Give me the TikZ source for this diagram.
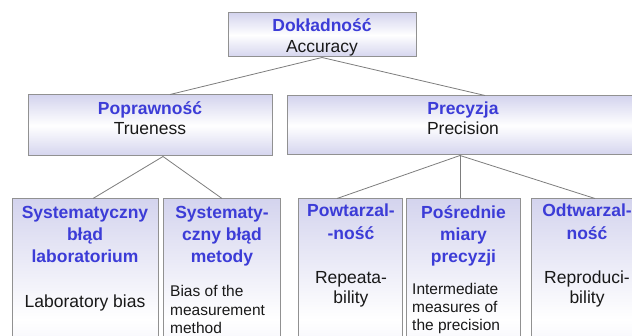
\documentclass[tikz,border=0pt]{standalone}
\usepackage{fontspec}
\setmainfont{Liberation Sans}
\definecolor{lav}{RGB}{212,212,238}
\definecolor{tblue}{RGB}{60,60,215}
\definecolor{bord}{RGB}{145,145,145}
\definecolor{connc}{RGB}{125,125,125}
\definecolor{txt}{RGB}{25,25,25}
\begin{document}
\begin{tikzpicture}[x=1pt,y=-1pt,
 box/.style={draw=bord, line width=1pt, rectangle, inner sep=0pt, top color=lav, bottom color=lav, middle color=white},
 hd/.style={font=\fontsize{17.5}{20}\selectfont\bfseries, text=tblue, anchor=base, inner sep=0pt},
 en/.style={font=\fontsize{17.5}{20}\selectfont, text=txt, anchor=base, inner sep=0pt},
 sm/.style={font=\fontsize{15.5}{18}\selectfont, text=txt, anchor=base west, inner sep=0pt},
 conn/.style={draw=connc, line width=0.8pt}]
\useasboundingbox (0,0) rectangle (632,336);
\clip (0,0) rectangle (632,336);
% boxes
\node[box, minimum width=188pt, minimum height=44pt] (A) at (322,35) {};
\node[box, minimum width=244pt, minimum height=61pt] (P) at (150,125.5) {};
\node[box, minimum width=352pt, minimum height=59pt] (R) at (463,125.5) {};
\node[box, minimum width=146pt, minimum height=241pt] (S1) at (85,319.5) {};
\node[box, minimum width=117pt, minimum height=241pt] (S2) at (221.5,319.5) {};
\node[box, minimum width=104pt, minimum height=241pt] (B3) at (350,319.5) {};
\node[box, minimum width=114pt, minimum height=241pt] (B4) at (463,319.5) {};
\node[box, minimum width=112pt, minimum height=241pt] (B5) at (587,319.5) {};
% connectors
\draw[conn] (A.south) -- ([xshift=20pt]P.north);
\draw[conn] (A.south) -- ([xshift=22pt]R.north);
\draw[conn] ([xshift=13pt]P.south) -- ([xshift=8pt]S1.north);
\draw[conn] ([xshift=13pt]P.south) -- ([xshift=0.5pt]S2.north);
\draw[conn] ([xshift=-3pt]R.south) -- ([xshift=-13pt]B3.north);
\draw[conn] ([xshift=-3pt]R.south) -- ([xshift=-3pt]B4.north);
\draw[conn] ([xshift=-3pt]R.south) -- ([xshift=8pt]B5.north);
% texts
\node[hd] (a1) at (322,32) {Dokładność};
\node[en] (a2) at (322,53) {Accuracy};
\node[hd] (p1) at (150,115) {Poprawność};
\node[en] (p2) at (150,135) {Trueness};
\node[hd] (r1) at (463,115) {Precyzja};
\node[en] (r2) at (463,135) {Precision};
\node[hd] (s11) at (85,219) {Systematyczny};
\node[hd] (s12) at (85,241) {błąd};
\node[hd] (s13) at (85,263) {laboratorium};
\node[en] (s14) at (85,308) {Laboratory bias};
\node[hd] (s21) at (222,219) {Systematy-};
\node[hd] (s22) at (222,241) {czny błąd};
\node[hd] (s23) at (222,263) {metody};
\node[sm] (s24) at (170,297) {Bias of the};
\node[sm] (s25) at (170,316) {measurement};
\node[sm] (s26) at (170,334) {method};
\node[hd] (b31) at (351,217) {Powtarzal-};
\node[hd] (b32) at (351,240) {-ność};
\node[en] (b33) at (351,284) {Repeata-};
\node[en] (b34) at (351,304) {bility};
\node[hd] (b41) at (463.5,219) {Pośrednie};
\node[hd] (b42) at (463.5,241) {miary};
\node[hd] (b43) at (463.5,263) {precyzji};
\node[sm] (b44) at (412,295) {Intermediate};
\node[sm] (b45) at (412,313) {measures of};
\node[sm] (b46) at (412,331) {the precision};
\node[hd] (b51) at (587,217) {Odtwarzal-};
\node[hd] (b52) at (587,240) {ność};
\node[en] (b53) at (587,284) {Reproduci-};
\node[en] (b54) at (587,304) {bility};
\end{tikzpicture}
\end{document}
